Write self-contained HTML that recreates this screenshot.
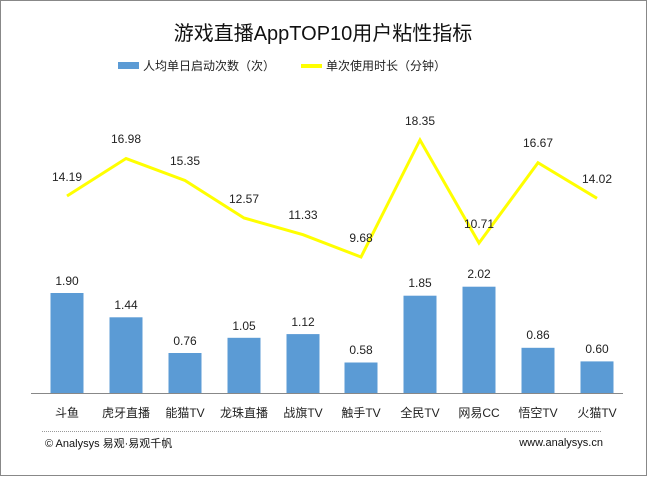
<!DOCTYPE html><html><head><meta charset="utf-8"><style>
body{margin:0;width:647px;height:476px;background:#fff;overflow:hidden}
</style></head><body>
<svg width="647" height="476" xmlns="http://www.w3.org/2000/svg" style="font-family:'Liberation Sans','Noto Sans CJK SC',sans-serif">
<rect x="0.5" y="0.5" width="646" height="475" fill="#fff" stroke="#888"/>
<text x="323" y="40" font-size="20" text-anchor="middle" fill="#111">游戏直播AppTOP10用户粘性指标</text>
<rect x="118" y="62" width="21" height="7" fill="#5b9bd5"/>
<text x="143" y="70" font-size="12" fill="#222">人均单日启动次数（次）</text>
<rect x="301" y="64" width="21" height="4" fill="#ffff00"/>
<text x="326" y="70" font-size="12" fill="#222">单次使用时长（分钟）</text>
<g fill="#5b9bd5">
<rect x="50.5" y="293" width="33" height="100"/>
<rect x="109.5" y="317.3" width="33" height="75.7"/>
<rect x="168.5" y="353" width="33" height="40"/>
<rect x="227.5" y="337.8" width="33" height="55.2"/>
<rect x="286.5" y="334.1" width="33" height="58.9"/>
<rect x="344.5" y="362.5" width="33" height="30.5"/>
<rect x="403.5" y="295.7" width="33" height="97.3"/>
<rect x="462.5" y="286.7" width="33" height="106.3"/>
<rect x="521.5" y="347.8" width="33" height="45.2"/>
<rect x="580.5" y="361.4" width="33" height="31.6"/>
</g>
<line x1="31" y1="393.5" x2="623" y2="393.5" stroke="#888"/>
<polyline fill="none" stroke="#ffff00" stroke-width="3" points="67,196 126,158.5 185,180.5 244,218 303,234.7 361,257 420,140 479,243 538,162.7 597,198.3"/>
<g font-size="12" fill="#222" text-anchor="middle">
<text x="67" y="181">14.19</text><text x="126" y="143">16.98</text><text x="185" y="165">15.35</text><text x="244" y="203">12.57</text><text x="303" y="219">11.33</text><text x="361" y="242">9.68</text><text x="420" y="125">18.35</text><text x="479" y="228">10.71</text><text x="538" y="147">16.67</text><text x="597" y="183">14.02</text>
<text x="67" y="285">1.90</text><text x="126" y="309">1.44</text><text x="185" y="345">0.76</text><text x="244" y="330">1.05</text><text x="303" y="326">1.12</text><text x="361" y="354">0.58</text><text x="420" y="287">1.85</text><text x="479" y="278">2.02</text><text x="538" y="339">0.86</text><text x="597" y="353">0.60</text>
<text x="67" y="417">斗鱼</text><text x="126" y="417">虎牙直播</text><text x="185" y="417">能猫TV</text><text x="244" y="417">龙珠直播</text><text x="303" y="417">战旗TV</text><text x="361" y="417">触手TV</text><text x="420" y="417">全民TV</text><text x="479" y="417">网易CC</text><text x="538" y="417">悟空TV</text><text x="597" y="417">火猫TV</text>
</g>
<line x1="42" y1="431.5" x2="601" y2="431.5" stroke="#999" stroke-dasharray="1,1"/>
<text x="45" y="447" font-size="11" fill="#111">© Analysys 易观·易观千帆</text>
<text x="603" y="446" font-size="11" fill="#111" text-anchor="end">www.analysys.cn</text>
</svg>
</body></html>
